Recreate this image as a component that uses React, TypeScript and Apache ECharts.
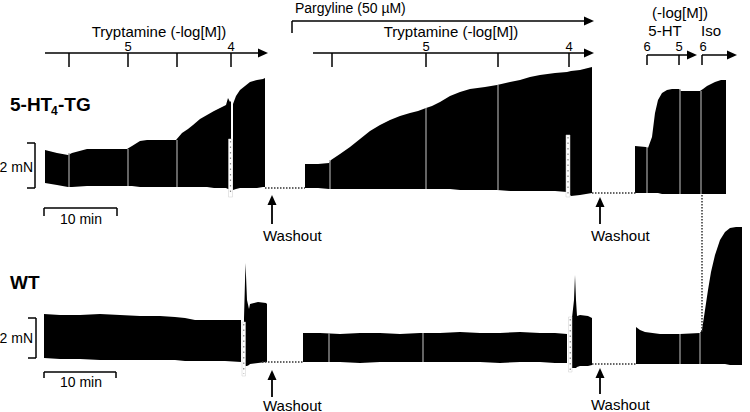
import React, { useEffect, useRef } from "react";
import * as echarts from "echarts";

// ---- Data (figure coordinates: x in px across, y in px down) ----
// Each trace point: [x, top, bottom]
const tgTraces: number[][][] = [
  [[45,150,183],[57,153,185],[68,155,187],[72,153,187],[87,149,186],[100,149,186],[127,149,186],[132,146,186],[140,141,187],[147,140,187],[160,140,187],[176,140,187],[182,133,187],[188,129,187],[193,125,187],[200,119,187],[207,115,187],[214,111,188],[220,108,188],[226,105,188],[228,98,189],[230,102,189],[231,101,190]],
  [[233,104,190],[236,96,189],[240,90,188],[245,86,188],[250,82,188],[257,80,188],[263,79,187],[265,78,187]],
  [[305,164,188],[318,164,188],[329,163,189],[331,160,189],[340,154,189],[350,147,189],[360,139,189],[370,131,189],[380,125,189],[390,120,189],[400,116,189],[410,113,189],[418,111,189],[426,108,189],[432,106,189],[440,102,189],[450,96,189],[460,92,190],[470,89,190],[485,87,190],[497,85,190],[510,82,191],[520,80,191],[530,77,191],[540,75,191],[555,73,191],[567,72,192],[571,71,196],[580,70,195],[592,67,193]],
  [[635,146,193],[646,147,193],[648,148,193],[652,137,193],[655,113,193],[658,100,193],[662,93,194],[667,90,194],[672,89,194],[679,89,194],[681,91,194],[690,91,194],[700,91,194],[703,89,194],[707,86,194],[715,82,194],[721,80,194],[726,80,194]],
];
const wtTraces: number[][][] = [
  [[44,314,358],[60,315,359],[80,315,359],[100,314,360],[120,315,360],[140,316,360],[160,316,360],[175,317,360],[185,318,361],[195,320,361],[210,320,361],[225,320,361],[241,320,362]],
  [[244,318,365],[245.5,263,366],[247,300,366],[249,309,365],[250,304,364],[258,302,363],[266,303,362],[267,304,362]],
  [[303,333,362],[320,333,362],[340,334,362],[360,333,363],[380,333,362],[400,334,362],[420,333,362],[440,333,362],[460,332,362],[480,333,362],[500,333,363],[520,332,362],[540,333,362],[555,333,363],[567,334,363]],
  [[572,318,368],[574,300,368],[575,275,368],[576,300,368],[577,316,367],[580,315,366],[588,316,366],[592,318,365]],
  [[636,327,364],[640,330,364],[645,332,364],[660,334,364],[680,334,364],[700,333,364],[702,330,364],[705,310,364],[708,290,364],[711,272,364],[715,255,364],[720,240,364],[725,232,364],[730,228,365],[736,227,365],[742,227,365]],
];
// white interruptions within traces: [x, yTop, yBottom]
const gapLines: number[][] = [
  [69,153,187],[128,149,186],[177,140,187],
  [330,160,189],[426,108,189],[498,85,190],
  [647,147,193],[680,89,194],[701,91,194],
  [329,333,362],[423,333,362],
  [680,334,364],[700,333,364],
];
// dotted marker boxes: [x1, x2, y1, y2]
const markerBoxes: number[][] = [
  [228.5,232.5,139,197],[566,570,135,197],[242,245.5,322,376],[568.5,572,317,372],
];
// dotted connecting lines: [x1, y1, x2, y2]
const dottedLines: number[][] = [
  [265,188,305,188],[592,193,637,193],[702,195,702,332],
  [262,362,303,362],[592,364,636,364],
];
// arrows: [x1, y1, x2 (tip), y2 (tip)]
const axisArrows: number[][] = [
  [45,53,268,53],[313,53,594,53],[292,21,594,21],[647,55,697,55],[702,55,737,55],
];
const washoutArrows: number[][] = [
  [272,224,272,195],[600,224,600,197],[272,397,272,370],[600,394,600,368],
];
// plain segments: ticks, brackets, scale bars
const plainLines: number[][] = [
  [69,53,69,67],[128,53,128,67],[177,53,177,67],[231,53,231,67],
  [332,53,332,67],[426,53,426,67],[498,53,498,67],[569,53,569,67],
  [292,21,292,33],[647,55,647,65],[679,55,679,65],[702,55,702,65],
  [35,143,35,188],[27,143,35,143],[27,188,35,188],
  [36,318,36,358],[28,318,36,318],[28,358,36,358],
  [44,208,117,208],[44,208,44,216],[117,208,117,216],
  [44,372,116,372],[44,372,44,378],[116,372,116,378],
];
// texts: [label, x, y, align, size, weight]
const labels: [string, number, number, string, number, string][] = [
  ["Tryptamine (-log[M])",159,31,"center",15,"normal"],
  ["5",128,46,"center",13,"normal"],
  ["4",231,46,"center",13,"normal"],
  ["Pargyline (50 µM)",295,8,"left",14,"normal"],
  ["Tryptamine (-log[M])",451,31,"center",15,"normal"],
  ["5",426,46,"center",13,"normal"],
  ["4",569,46,"center",13,"normal"],
  ["(-log[M])",680,12,"center",15,"normal"],
  ["5-HT",665,30,"center",15,"normal"],
  ["Iso",711,30,"center",15,"normal"],
  ["6",647,46,"center",13,"normal"],
  ["5",679,46,"center",13,"normal"],
  ["6",703,46,"center",13,"normal"],
  ["2 mN",33,167,"right",14,"normal"],
  ["2 mN",33,338,"right",14,"normal"],
  ["10 min",81,219,"center",14,"normal"],
  ["10 min",81,382,"center",14,"normal"],
  ["Washout",263,235,"left",15,"normal"],
  ["Washout",591,235,"left",15,"normal"],
  ["Washout",263,405,"left",15,"normal"],
  ["Washout",591,404,"left",15,"normal"],
  ["WT",10,282,"left",19,"bold"],
];

const FONT = "'Liberation Sans', Arial, sans-serif";

export default function App() {
  const ref = useRef<HTMLDivElement>(null);
  useEffect(() => {
    document.body.style.margin = "0";
    const chart = echarts.init(ref.current!, null, { renderer: "svg" });
    const traces = [...tgTraces, ...wtTraces];

    const segSeries = (name: string, data: number[][], style: any) => ({
      type: "custom",
      name,
      silent: true,
      clip: false,
      data: data.map((d) => [d[0], d[1], d[2], d[3]]),
      renderItem: (_p: any, api: any) => {
        const a = api.coord([api.value(0), api.value(1)]);
        const b = api.coord([api.value(2), api.value(3)]);
        return { type: "line", shape: { x1: a[0], y1: a[1], x2: b[0], y2: b[1] }, style };
      },
    });

    const arrowSeries = (name: string, data: number[][], len: number, half: number, width: number) => ({
      type: "custom",
      name,
      silent: true,
      clip: false,
      data: data.map((d) => [d[0], d[1], d[2], d[3]]),
      renderItem: (_p: any, api: any) => {
        const a = api.coord([api.value(0), api.value(1)]);
        const b = api.coord([api.value(2), api.value(3)]);
        const dx = b[0] - a[0], dy = b[1] - a[1];
        const L = Math.hypot(dx, dy) || 1;
        const ux = dx / L, uy = dy / L;
        const bx = b[0] - ux * len, by = b[1] - uy * len;
        return {
          type: "group",
          children: [
            { type: "line", shape: { x1: a[0], y1: a[1], x2: bx + ux * 1, y2: by + uy * 1 }, style: { stroke: "#000", lineWidth: width } },
            { type: "polygon", shape: { points: [[b[0], b[1]], [bx - uy * half, by + ux * half], [bx + uy * half, by - ux * half]] }, style: { fill: "#000" } },
          ],
        };
      },
    });

    const option: any = {
      animation: false,
      backgroundColor: "#fff",
      grid: { left: 0, right: 0, top: 0, bottom: 0 },
      xAxis: { type: "value", min: 0, max: 750, show: false },
      yAxis: { type: "value", min: 0, max: 412, inverse: true, show: false },
      series: [
        {
          type: "custom",
          name: "traces",
          silent: true,
          clip: false,
          data: traces.map((t, i) => [t[0][0], t[0][1], i]),
          renderItem: (params: any, api: any) => {
            const tr = traces[params.dataIndex];
            const top = tr.map((p) => api.coord([p[0], p[1]]));
            const bot = tr.slice().reverse().map((p) => api.coord([p[0], p[2]]));
            return { type: "polygon", shape: { points: top.concat(bot) }, style: { fill: "#000" } };
          },
        },
        {
          type: "custom",
          name: "gaps",
          silent: true,
          clip: false,
          data: gapLines,
          renderItem: (_p: any, api: any) => {
            const a = api.coord([api.value(0), api.value(1)]);
            const b = api.coord([api.value(0), api.value(2)]);
            return { type: "line", shape: { x1: a[0], y1: a[1], x2: b[0], y2: b[1] }, style: { stroke: "#9a9a9a", lineWidth: 1.3 } };
          },
        },
        {
          type: "custom",
          name: "markers",
          silent: true,
          clip: false,
          data: markerBoxes,
          renderItem: (_p: any, api: any) => {
            const a = api.coord([api.value(0), api.value(2)]);
            const b = api.coord([api.value(1), api.value(3)]);
            const mx = (a[0] + b[0]) / 2;
            return {
              type: "group",
              children: [
                { type: "rect", shape: { x: a[0], y: a[1], width: b[0] - a[0], height: b[1] - a[1] }, style: { fill: "#fff", stroke: "#ccc", lineWidth: 0.5 } },
                { type: "line", shape: { x1: mx, y1: a[1] + 2, x2: mx, y2: b[1] - 2 }, style: { stroke: "#888", lineWidth: 1.2, lineDash: [1.5, 4] } },
              ],
            };
          },
        },
        segSeries("dotted", dottedLines, { stroke: "#333", lineWidth: 1.5, lineDash: [1.5, 1.5] }),
        segSeries("lines", plainLines, { stroke: "#000", lineWidth: 1.5 }),
        arrowSeries("axisArrows", axisArrows, 10, 4.5, 1.5),
        arrowSeries("washout", washoutArrows, 10, 4.5, 1.8),
      ],
      graphic: [
        ...labels.map((l) => ({
          type: "text",
          x: l[1],
          y: l[2],
          silent: true,
          style: {
            text: l[0],
            fill: "#000",
            fontSize: l[4],
            fontWeight: l[5],
            fontFamily: FONT,
            align: l[3],
            verticalAlign: "middle",
          },
        })),
        { type: "text", x: 10, y: 104, silent: true, style: { text: "5-HT", fill: "#000", fontSize: 19, fontWeight: "bold", fontFamily: FONT, align: "left", verticalAlign: "middle" } },
        { type: "text", x: 51, y: 111, silent: true, style: { text: "4", fill: "#000", fontSize: 12, fontWeight: "bold", fontFamily: FONT, align: "left", verticalAlign: "middle" } },
        { type: "text", x: 58, y: 104, silent: true, style: { text: "-TG", fill: "#000", fontSize: 19, fontWeight: "bold", fontFamily: FONT, align: "left", verticalAlign: "middle" } },
      ],
    };
    chart.setOption(option);
    return () => chart.dispose();
  }, []);
  return <div ref={ref} style={{ width: 750, height: 412 }} />;
}
